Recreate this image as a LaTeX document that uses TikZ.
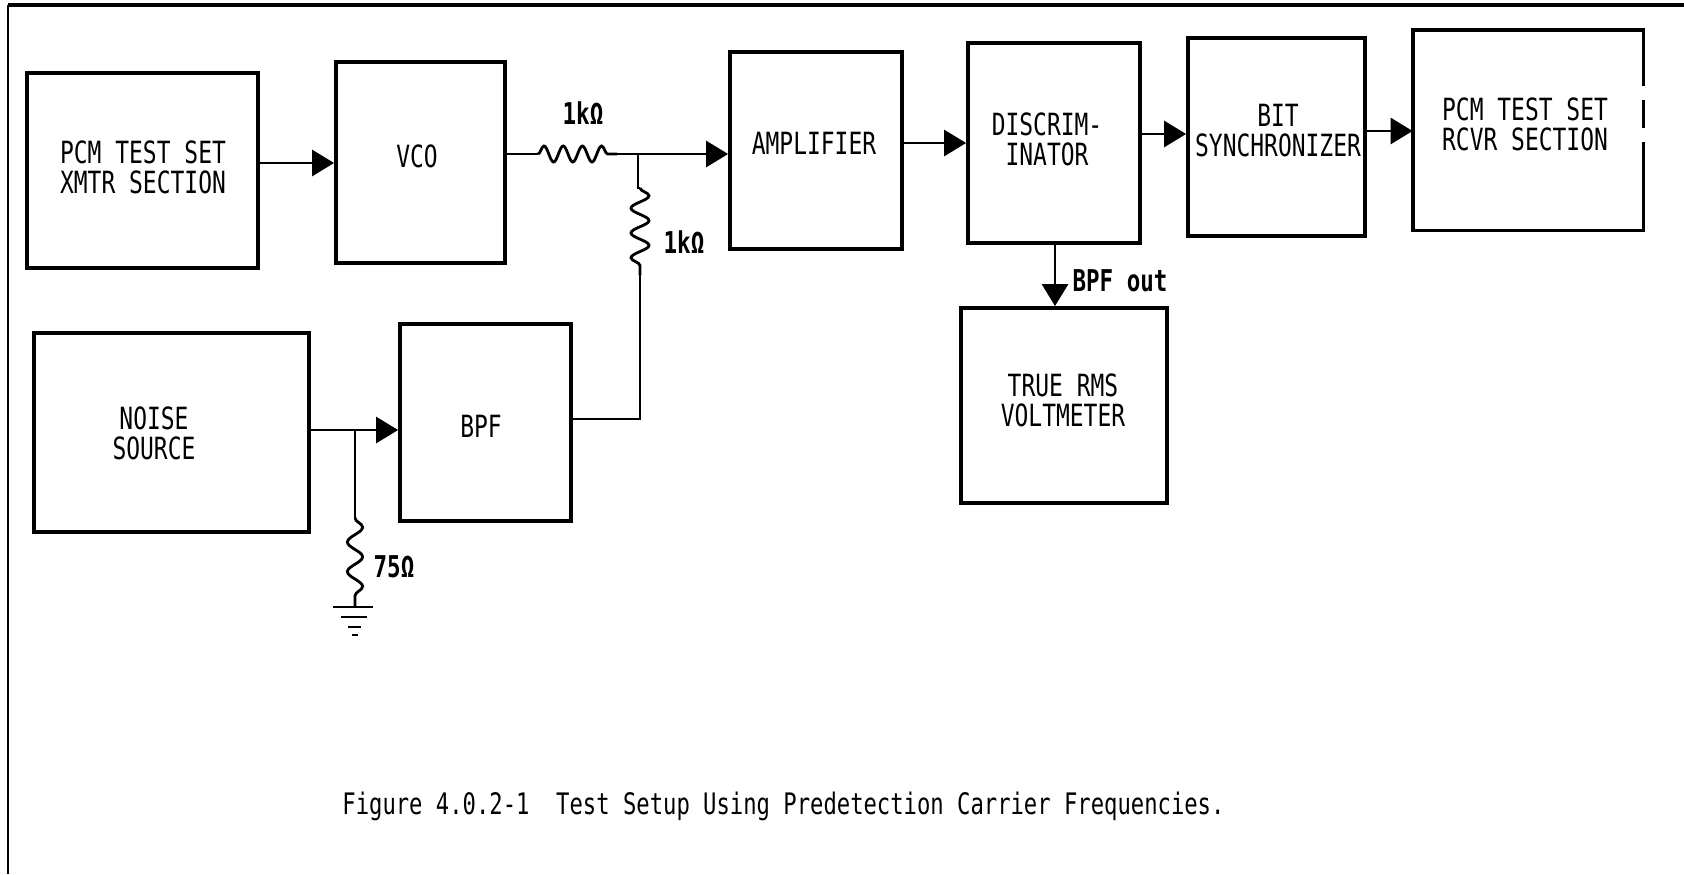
\documentclass[tikz,border=0pt]{standalone}
\usepackage{fontspec}
\newfontfamily\diagfont[FakeStretch=0.75]{DejaVu Sans Mono}
\usetikzlibrary{arrows.meta,decorations.pathmorphing,fit}
\begin{document}
\begin{tikzpicture}[x=0.5pt,y=-0.5pt,
  blk/.style={draw,line width=1.9pt,inner sep=0pt},
  blkn/.style={inner sep=0pt},
  txt/.style={font=\diagfont\fontsize{15.3}{15}\selectfont,align=center,inner sep=0pt},
  val/.style={font=\diagfont\bfseries\fontsize{15}{15}\selectfont,inner sep=0pt},
  wire/.style={line width=1.4pt},
  arr/.style={wire,-{Triangle[length=11pt,width=13pt]}},
  res/.style={wire,decorate,decoration={snake,amplitude=#1,segment length=9.6pt,pre length=0pt,post length=0pt}},
  res/.default=4pt]
\useasboundingbox (0,0) rectangle (1684,874);
% frame
\draw[line width=2pt] (1684,5) -- (8,5);
\draw[line width=1.2pt] (8,5) -- (8,874);

% blocks
\node[blk,fit={(27,73) (258,268)}] (xmtr) {};
\node[blk,fit={(336,62) (505,263)}] (vco) {};
\node[blk,fit={(730,52) (902,249)}] (amp) {};
\node[blk,fit={(968,43) (1140,243)}] (disc) {};
\node[blk,fit={(1188,38) (1365,236)}] (bit) {};
\node[blkn,fit={(1413,30) (1643,230)}] (rcvr) {};
\node[blk,fit={(34,333) (309,532)}] (noise) {};
\node[blk,fit={(400,324) (571,521)}] (bpf) {};
\node[blk,fit={(961,308) (1167,503)}] (trms) {};
% receiver box with broken right side
\draw[line width=1.9pt] ([yshift=-28pt]rcvr.north east) -- (rcvr.north east) -- (rcvr.north west) -- (rcvr.south west) -- (rcvr.south east) -- ([yshift=44pt]rcvr.south east);
\draw[line width=1.9pt] ([yshift=-35pt]rcvr.north east) -- ([yshift=-49pt]rcvr.north east);

% block texts
\node[txt] (xmtrT) at (143,167) {PCM TEST SET\\XMTR SECTION};
\node[txt] (vcoT) at (417,156) {VCO};
\node[txt] (ampT) at (814,143) {AMPLIFIER};
\node[txt] (discT) at (1047,139) {DISCRIM-\\INATOR};
\node[txt] (bitT) at (1278,131) {BIT\\SYNCHRONIZER};
\node[txt] (rcvrT) at (1525,124) {PCM TEST SET\\RCVR SECTION};
\node[txt] (noiseT) at (154,433) {NOISE\\SOURCE};
\node[txt] (bpfT) at (481,426) {BPF};
\node[txt] (trmsT) at (1063,400) {TRUE RMS\\VOLTMETER};

% coordinates
\coordinate (r1) at (0,163);
\coordinate (j1) at (638,154);
\coordinate (rh1) at (538,154);
\coordinate (rh2) at (617,154);
\coordinate (rv1) at (640,188);
\coordinate (rv2) at (640,275);
\coordinate (j2) at (640,419);
\coordinate (r3) at (0,430);
\coordinate (j3) at (355,430);
\coordinate (rg1) at (355,518);
\coordinate (gnd) at (355,607);
\coordinate (r4) at (0,143);
\coordinate (r5) at (0,134);
\coordinate (r6) at (0,131);
\coordinate (c5) at (1055,0);

% connectors
\draw[arr] (xmtr.east |- r1) -- (vco.west |- r1);
\draw[wire] (vco.east |- j1) -- (rh1);
\draw[res] (rh1) -- (rh2);
\draw[wire] (rh2) -- (j1);
\draw[arr] (j1) -- (amp.west |- j1);
\draw[wire] (j1) -- (j1 |- rv1) -- (rv1);
\draw[res=4.5pt,decoration={segment length=12.4pt}] (rv1) -- (rv2);
\draw[wire] (rv2) -- (j2) -- (bpf.east |- j2);
\draw[arr] (noise.east |- r3) -- (bpf.west |- r3);
\draw[wire] (j3) -- (rg1);
\draw[res=3.8pt,decoration={segment length=14.8pt}] (rg1) -- (gnd);
\draw[wire] ([xshift=-11pt]gnd) -- ([xshift=9pt]gnd);
\draw[wire] ([xshift=-7pt,yshift=-5pt]gnd) -- ([xshift=6pt,yshift=-5pt]gnd);
\draw[wire] ([xshift=-3.5pt,yshift=-10pt]gnd) -- ([xshift=3pt,yshift=-10pt]gnd);
\draw[wire] ([xshift=-1.5pt,yshift=-14pt]gnd) -- ([xshift=1.5pt,yshift=-14pt]gnd);
\draw[arr] (amp.east |- r4) -- (disc.west |- r4);
\draw[arr] (disc.east |- r5) -- (bit.west |- r5);
\draw[arr] (bit.east |- r6) -- (rcvr.west |- r6);
\draw[arr] (disc.south -| c5) -- (trms.north -| c5);

% values
\node[val] (rhL) at (583,113) {1kΩ};
\node[val] (rvL) at (684,242) {1kΩ};
\node[val] (rgL) at (394,567) {75Ω};
\node[val] (bpfL) at (1120,281) {BPF out};

% caption
\node[font=\diagfont\fontsize{14.8}{15}\selectfont,anchor=west,inner sep=0pt] (cap) at (342,806) {Figure 4.0.2-1~~Test Setup Using Predetection Carrier Frequencies.};
\end{tikzpicture}
\end{document}
